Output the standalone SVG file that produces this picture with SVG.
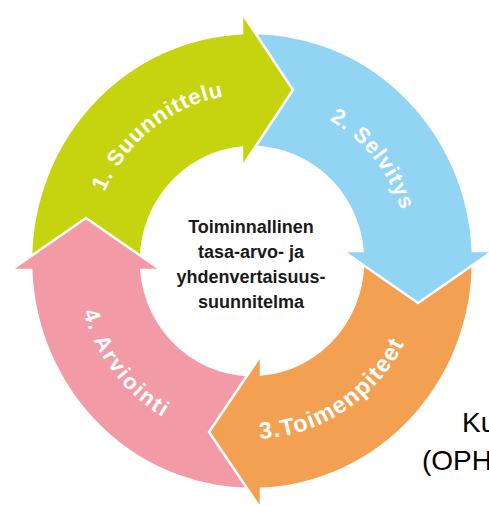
<svg xmlns="http://www.w3.org/2000/svg" xmlns:xlink="http://www.w3.org/1999/xlink" width="489" height="507" viewBox="0 0 489 507">
<style>
.seg{stroke:#ffffff;stroke-width:2.5;stroke-linejoin:miter}
.lbl{font-family:"Liberation Sans",Arial,sans-serif;font-weight:bold;font-size:22px;fill:#ffffff;letter-spacing:1px}
.ctr{font-family:"Liberation Sans",Arial,sans-serif;font-weight:bold;font-size:18px;fill:#1a1a1a;text-anchor:middle}
.side{font-family:"Liberation Sans",Arial,sans-serif;font-size:28px;fill:#000000}
</style>
<defs>
<path id="pPink" d="M 261,488.8 A 221 228 0 0 1 31.2,270 L 11,270 L 86,218 L 161,270 L 141.3,270 A 111 114 0 0 0 261,374.6 Z"/>
<clipPath id="clipLeft"><rect x="0" y="200" width="175" height="82"/></clipPath>
<path id="tGreen" d="M 92.5,232 A 162 167 0 0 1 266.1,94.6"/>
<path id="tBlue" d="M 279.3,101.5 A 157 162 0 0 1 409,263.8"/>
<path id="tOrange" d="M 222.1,436.3 A 172 178 0 0 0 418.1,307.1"/>
<path id="tPink" d="M 76.7,245.2 A 176 181 0 0 0 227.5,440.2"/>
</defs>
<rect width="489" height="507" fill="#ffffff"/>
<g id="step4-arviointi">
<use xlink:href="#pPink" class="seg" fill="#f29ba6"/>
</g>
<g id="step3-toimenpiteet">
<path class="seg" fill="#f4a052" d="M 472.8,251 A 221 228 0 0 1 261,488.8 L 261,509 L 209,432 L 261,355 L 261,374.6 A 111 114 0 0 0 362.6,251 Z"/>
</g>
<g id="step2-selvitys">
<path class="seg" fill="#91d4f3" d="M 242,33.2 A 221 228 0 0 1 472.8,251 L 493,251 L 418,303 L 343,251 L 362.6,251 A 111 114 0 0 0 242,147.5 Z"/>
</g>
<g id="step1-suunnittelu">
<path class="seg" fill="#c6d30f" d="M 31.2,270 A 221 228 0 0 1 242,33.2 L 242,13 L 293,90 L 242,167 L 242,147.5 A 111 114 0 0 0 141.3,270 Z"/>
</g>
<g id="step4-arrowhead">
<use xlink:href="#pPink" class="seg" fill="#f29ba6" clip-path="url(#clipLeft)"/>
</g>
<g id="labels">
<text class="lbl"><textPath xlink:href="#tGreen" startOffset="50%" text-anchor="middle">1. Suunnittelu</textPath></text>
<text class="lbl"><textPath xlink:href="#tBlue" startOffset="50%" text-anchor="middle">2. Selvitys</textPath></text>
<text class="lbl" style="font-size:23.5px;letter-spacing:1.3px"><textPath xlink:href="#tOrange" startOffset="50%" text-anchor="middle">3.Toimenpiteet</textPath></text>
<text class="lbl" style="letter-spacing:2px"><textPath xlink:href="#tPink" startOffset="50%" text-anchor="middle">4. Arviointi</textPath></text>
</g>
<g id="center">
<text class="ctr" x="251" y="233">Toiminnallinen</text>
<text class="ctr" x="251" y="258">tasa-arvo- ja</text>
<text class="ctr" x="251" y="283">yhdenvertaisuus-</text>
<text class="ctr" x="251" y="308">suunnitelma</text>
</g>
<g id="connectors"></g>
<g id="side-text">
<text class="side" x="462" y="432">Ku</text>
<text class="side" x="422" y="470">(OPH</text>
</g>
</svg>
